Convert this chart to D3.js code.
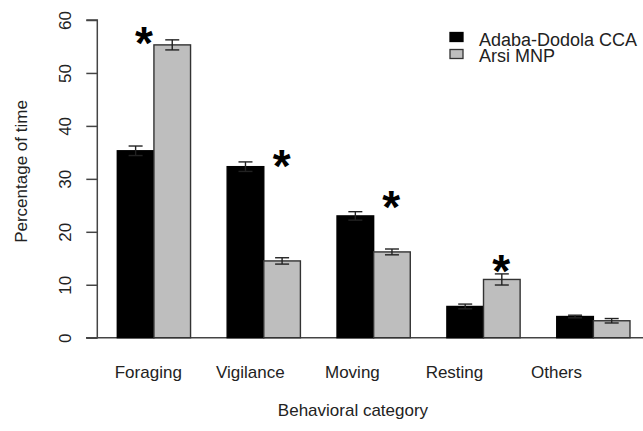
<!DOCTYPE html>
<html>
<head>
<meta charset="utf-8">
<script src="https://cdn.jsdelivr.net/npm/d3@7/dist/d3.min.js"></script>
<style>
  html, body { margin: 0; padding: 0; background: #fff; }
  svg { display: block; font-family: "Liberation Sans", Arial, sans-serif; }
</style>
</head>
<body>
<svg id="chart" width="643" height="431"></svg>
<script>
// Behaviour budget: mean percentage of time (± SE) per behavioural category
const categories = ["Foraging", "Vigilance", "Moving", "Resting", "Others"];
const seriesNames = ["Adaba-Dodola CCA", "Arsi MNP"];
const adabaValues = [35.3, 32.3, 23.0, 5.9, 4.0];
const adabaErrors = [0.9, 0.9, 0.8, 0.45, 0.25];
const arsiValues = [55.3, 14.5, 16.2, 11.0, 3.2];
const arsiErrors = [0.95, 0.6, 0.55, 1.05, 0.42];
const yTicks = [0, 10, 20, 30, 40, 50, 60];
// significance markers, in bar-slot units (x) and percent (y)
const starX = [1.73, 5.49, 8.48, 11.48];
const starY = [57.6, 34.5, 26.7, 14.7];

const svg = d3.select("#chart");
const axisColor = "#444";
const fills = ["#000000", "#bebebe"];

// Bars are laid out in slot units: each group = 2 bars of width 1 plus a gap of 1
const x = d3.scaleLinear().domain([0.44, 15.56]).range([96.8, 650.5]);
const y = d3.scaleLinear().domain([0, 60]).range([337.7, 20]);
const labelX = d3.scalePoint().domain(categories).range([148.3, 556.5]);

const bars = [];
categories.forEach((c, i) => {
  const start = 1 + 3 * i;
  bars.push({ cat: c, s: 0, x0: start, v: adabaValues[i], e: adabaErrors[i] });
  bars.push({ cat: c, s: 1, x0: start + 1, v: arsiValues[i], e: arsiErrors[i] });
});

// baseline
svg.append("line")
  .attr("x1", 86).attr("x2", 650)
  .attr("y1", y(0)).attr("y2", y(0))
  .attr("stroke", axisColor).attr("stroke-width", 1.5);

// y axis
const yAxis = d3.axisLeft(y).tickValues(yTicks).tickSize(11).tickPadding(0)
  .tickFormat(d3.format("d"));
const gy = svg.append("g").attr("transform", "translate(97.3,0)").call(yAxis);
gy.select(".domain").attr("stroke", axisColor).attr("stroke-width", 1.5)
  .attr("d", `M-11,${y(60)}H0V${y(0)}H-11`);
gy.selectAll(".tick line").attr("stroke", axisColor).attr("stroke-width", 1.5);
gy.selectAll(".tick text")
  .attr("font-size", 17).attr("fill", "#222")
  .attr("text-anchor", "middle")
  .attr("x", null).attr("dy", null)
  .attr("transform", "translate(-26,0) rotate(-90)")
  .attr("y", 0);

// bars
svg.append("g").selectAll("rect").data(bars).join("rect")
  .attr("x", d => x(d.x0))
  .attr("width", d => x(d.x0 + 1) - x(d.x0))
  .attr("y", d => y(d.v))
  .attr("height", d => y(0) - y(d.v))
  .attr("fill", d => fills[d.s])
  .attr("stroke", d => d.s === 0 ? "#000" : "#333")
  .attr("stroke-width", 1.4);

// error bars
const eb = svg.append("g").attr("stroke", "#222").attr("stroke-width", 1.4);
bars.forEach(d => {
  const cx = x(d.x0 + 0.5);
  eb.append("line").attr("x1", cx).attr("x2", cx)
    .attr("y1", y(d.v - d.e)).attr("y2", y(d.v + d.e));
  [d.v - d.e, d.v + d.e].forEach(v => {
    eb.append("line").attr("x1", cx - 7).attr("x2", cx + 7)
      .attr("y1", y(v)).attr("y2", y(v));
  });
});

// significance asterisks (glyph ink centred on the given point)
const starSize = 46;
svg.append("g").selectAll("text").data(starX).join("text")
  .attr("x", (d) => x(d))
  .attr("y", (d, i) => y(starY[i]) + starSize * 0.58)
  .attr("text-anchor", "middle")
  .attr("font-size", starSize)
  .attr("font-weight", "bold")
  .attr("fill", "#000")
  .text("*");

// category labels
svg.append("g").selectAll("text").data(categories).join("text")
  .attr("x", d => labelX(d))
  .attr("y", 377.5)
  .attr("text-anchor", "middle")
  .attr("font-size", 17)
  .attr("fill", "#222")
  .text(d => d);

// axis titles
svg.append("text")
  .attr("x", 353).attr("y", 416)
  .attr("text-anchor", "middle")
  .attr("font-size", 17).attr("fill", "#222")
  .text("Behavioral category");

svg.append("text")
  .attr("transform", "translate(26.5,171.5) rotate(-90)")
  .attr("text-anchor", "middle")
  .attr("font-size", 17).attr("fill", "#222")
  .text("Percentage of time");

// legend
const legend = svg.append("g");
seriesNames.forEach((name, i) => {
  const cy = 37 + i * 17;
  legend.append("rect")
    .attr("x", 450).attr("y", cy - 4.5)
    .attr("width", 13).attr("height", 9)
    .attr("fill", fills[i])
    .attr("stroke", i === 0 ? "#000" : "#333").attr("stroke-width", 1.3);
  legend.append("text")
    .attr("x", 479).attr("y", 45.7 + i * 16)
    .attr("font-size", 18).attr("fill", "#222")
    .text(name);
});
</script>
</body>
</html>
